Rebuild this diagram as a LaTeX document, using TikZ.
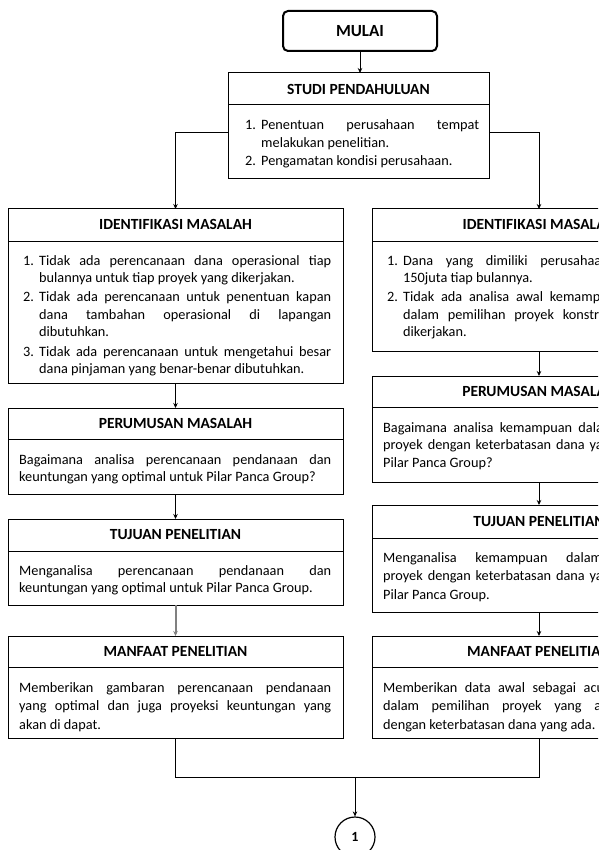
\documentclass[tikz,border=0pt]{standalone}
\usepackage{fontspec}
\setmainfont{Carlito}
\usetikzlibrary{arrows.meta}
\newcommand{\bodyfont}{\fontsize{14.3}{17.6}\selectfont}
\newcommand{\widefont}{\fontsize{14.3}{18.8}\selectfont}
\newcommand{\hdrfont}{\fontsize{15.5}{18}\selectfont\bfseries}
\newcommand{\JJ}[2]{\hbox to #1{\spaceskip=0.226em plus 1fil\relax #2}}
\newcommand{\itemnum}[1]{\makebox[16pt][l]{#1}}
\newcommand{\ind}{\hspace*{16pt}}
\begin{document}
\begin{tikzpicture}[x=1pt,y=-1pt,
  box/.style={draw, line width=1pt, anchor=north west, inner sep=0pt, outer sep=0pt},
  hdr/.style={anchor=base, inner sep=0pt, font=\hdrfont},
  body/.style={anchor=base west, inner sep=0pt, text width=340pt, align=justify, font=\bodyfont},
  arr/.style={line width=0.9pt, -{Stealth[length=5pt,width=4.5pt]}},
  conn/.style={line width=0.9pt},
  divider/.style={line width=1pt}]

\useasboundingbox (0,0) rectangle (598,850);
\clip (0,0) rectangle (598,850);
\fill[white] (0,0) rectangle (598,850);

% MULAI
\node[draw, line width=2pt, rounded corners=5pt, minimum width=154pt, minimum height=40pt,
      inner sep=0pt, font=\fontsize{17}{20}\selectfont\bfseries] (mulai) at (360,31) {MULAI};

% STUDI PENDAHULUAN
\node[box, minimum width=261pt, minimum height=106pt] (studi) at (228,73) {};
\draw[divider] (studi.west |- 0,105) -- (studi.east |- 0,105);
\node[hdr] (studiH) at (358.5,94.5) {STUDI PENDAHULUAN};
\node[body] (studiT) at (245,130) {\itemnum{1.}\JJ{218pt}{Penentuan perusahaan tempat}\\
\ind melakukan penelitian.\\[0.5pt]
\itemnum{2.}Pengamatan kondisi perusahaan.};

% LEFT COLUMN
\node[box, minimum width=335pt, minimum height=174pt] (identL) at (8,209) {};
\draw[divider] (identL.west |- 0,241) -- (identL.east |- 0,241);
\node[hdr] (identLH) at (175.5,229.7) {IDENTIFIKASI MASALAH};
\node[body] (identLT) at (23,265) {\itemnum{1.}\JJ{292pt}{Tidak ada perencanaan dana operasional tiap}\\
\ind bulannya untuk tiap proyek yang dikerjakan.\\[1.5pt]
\itemnum{2.}\JJ{292pt}{Tidak ada perencanaan untuk penentuan kapan}\\
\ind\JJ{292pt}{dana tambahan operasional di lapangan}\\
\ind dibutuhkan.\\[1.5pt]
\itemnum{3.}\JJ{292pt}{Tidak ada perencanaan untuk mengetahui besar}\\
\ind dana pinjaman yang benar-benar dibutuhkan.};

\node[box, minimum width=335pt, minimum height=86pt] (perL) at (8,408) {};
\draw[divider] (perL.west |- 0,439) -- (perL.east |- 0,439);
\node[hdr] (perLH) at (175.5,428.7) {PERUMUSAN MASALAH};
\node[body] (perLT) at (19,464) {\JJ{312pt}{Bagaimana analisa perencanaan pendanaan dan}\\
keuntungan yang optimal untuk Pilar Panca Group?};

\node[box, minimum width=335pt, minimum height=86pt] (tujL) at (8,519) {};
\draw[divider] (tujL.west |- 0,551) -- (tujL.east |- 0,551);
\node[hdr] (tujLH) at (175.5,539.7) {TUJUAN PENELITIAN};
\node[body] (tujLT) at (19,575) {\JJ{312pt}{Menganalisa perencanaan pendanaan dan}\\
keuntungan yang optimal untuk Pilar Panca Group.};

\node[box, minimum width=335pt, minimum height=102pt] (manfL) at (8,636) {};
\draw[divider] (manfL.west |- 0,667) -- (manfL.east |- 0,667);
\node[hdr] (manfLH) at (175.5,656.5) {MANFAAT PENELITIAN};
\node[body, font=\widefont] (manfLT) at (19,692) {\JJ{312pt}{Memberikan gambaran perencanaan pendanaan}\\
\JJ{312pt}{yang optimal dan juga proyeksi keuntungan yang}\\
akan di dapat.};

% RIGHT COLUMN
\node[box, minimum width=334pt, minimum height=142pt] (identR) at (372,209) {};
\draw[divider] (identR.west |- 0,241) -- (identR.east |- 0,241);
\node[hdr] (identRH) at (539,229.7) {IDENTIFIKASI MASALAH};
\node[body] (identRT) at (387,265) {\itemnum{1.}\JJ{291pt}{Dana yang dimiliki perusahaan sebesar Rp}\\
\ind 150juta tiap bulannya.\\[1.5pt]
\itemnum{2.}\JJ{291pt}{Tidak ada analisa awal kemampuan pendanaan}\\
\ind\JJ{291pt}{dalam pemilihan proyek konstruksi yang akan}\\
\ind dikerjakan.};

\node[box, minimum width=334pt, minimum height=106pt] (perR) at (372,376) {};
\draw[divider] (perR.west |- 0,407) -- (perR.east |- 0,407);
\node[hdr] (perRH) at (539,396.2) {PERUMUSAN MASALAH};
\node[body] (perRT) at (383,432) {\JJ{311pt}{Bagaimana analisa kemampuan dalam menentukan}\\
\JJ{311pt}{proyek dengan keterbatasan dana yang dimiliki oleh}\\
Pilar Panca Group?};

\node[box, minimum width=334pt, minimum height=107pt] (tujR) at (372,505) {};
\draw[divider] (tujR.west |- 0,538) -- (tujR.east |- 0,538);
\node[hdr] (tujRH) at (539,526) {TUJUAN PENELITIAN};
\node[body, font=\widefont] (tujRT) at (383,562) {\JJ{311pt}{Menganalisa kemampuan dalam menentukan}\\
\JJ{311pt}{proyek dengan keterbatasan dana yang dimiliki oleh}\\
Pilar Panca Group.};

\node[box, minimum width=334pt, minimum height=102pt] (manfR) at (372,636) {};
\draw[divider] (manfR.west |- 0,667) -- (manfR.east |- 0,667);
\node[hdr] (manfRH) at (539,656.5) {MANFAAT PENELITIAN};
\node[body, font=\widefont] (manfRT) at (383,692) {\JJ{311pt}{Memberikan data awal sebagai acuan perusahaan}\\
\JJ{311pt}{dalam pemilihan proyek yang akan dikerjakan}\\
dengan keterbatasan dana yang ada.};

% connector circle
\node[draw, circle, line width=1.2pt, minimum size=40pt, inner sep=0pt,
      font=\fontsize{14}{16}\selectfont\bfseries] (one) at (355,837) {1};
\coordinate (join) at (355,777);

% CONNECTORS
\draw[arr] (mulai.south) -- (mulai.south |- studi.north);
\draw[arr] ([yshift=-6pt]studi.west) -| (identL.north);
\draw[arr] ([yshift=-6pt]studi.east) -| (identR.north);
\draw[arr] (identL.south) -- (perL.north);
\draw[arr] (perL.south) -- (tujL.north);
\draw[arr, draw=gray, fill=gray, line width=2pt] (tujL.south) -- (manfL.north);
\draw[arr] (identR.south) -- (perR.north);
\draw[arr] (perR.south) -- (tujR.north);
\draw[arr] (tujR.south) -- (manfR.north);
\draw[conn] (manfL.south) |- (join) -| (manfR.south);
\draw[arr] (join) -- (one.north);
\end{tikzpicture}
\end{document}
